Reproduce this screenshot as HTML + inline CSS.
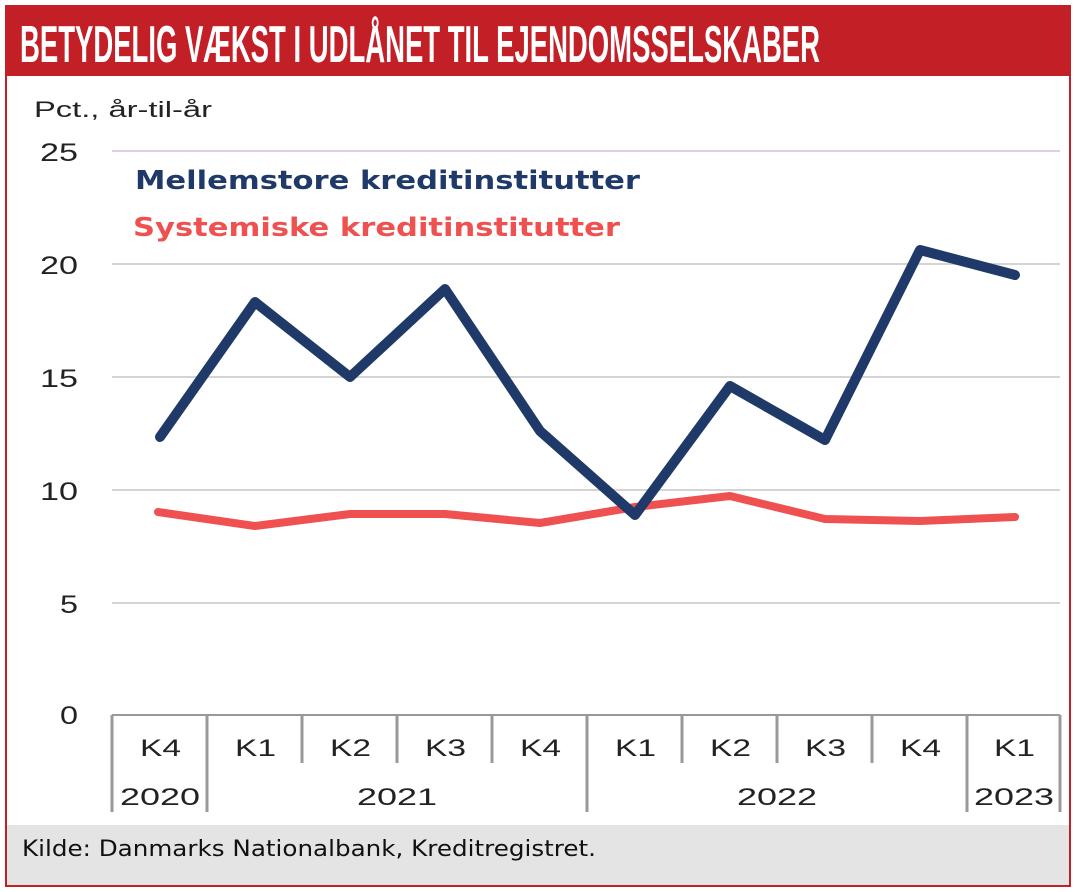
<!DOCTYPE html>
<html><head><meta charset="utf-8"><style>
html,body{margin:0;padding:0;background:#fff;width:1075px;height:892px;overflow:hidden}
</style></head><body>
<svg width="1075" height="892" xmlns="http://www.w3.org/2000/svg">
<rect x="0" y="0" width="1075" height="892" fill="#fff"/>
<rect x="6" y="6" width="1064" height="70" fill="#c21f26"/>
<text x="20" y="62" font-family="Liberation Sans Narrow, Liberation Sans, sans-serif" font-weight="bold" font-size="52" fill="#fff" textLength="800" lengthAdjust="spacingAndGlyphs">BETYDELIG VÆKST I UDLÅNET TIL EJENDOMSSELSKABER</text>
<rect x="7" y="825" width="1062" height="60" fill="#e4e4e4"/>
<rect x="6" y="6" width="1064" height="880" fill="none" stroke="#c21f26" stroke-width="2"/>
<text x="22" y="856" font-family="DejaVu Sans, sans-serif" font-size="22" fill="#111" textLength="574" lengthAdjust="spacingAndGlyphs">Kilde: Danmarks Nationalbank, Kreditregistret.</text>
<text x="34" y="117" font-family="Liberation Sans, sans-serif" font-size="22" fill="#222" textLength="178" lengthAdjust="spacingAndGlyphs">Pct., år-til-år</text>
<g stroke-width="2">
<line x1="112" y1="151" x2="1060" y2="151" stroke="#ddd0e2"/>
<line x1="112" y1="264" x2="1060" y2="264" stroke="#d4d4d4"/>
<line x1="112" y1="377" x2="1060" y2="377" stroke="#d4d4d4"/>
<line x1="112" y1="490" x2="1060" y2="490" stroke="#d4d4d4"/>
<line x1="112" y1="603" x2="1060" y2="603" stroke="#d4d4d4"/>
<line x1="112" y1="715" x2="1060" y2="715" stroke="#999"/>
</g>
<g font-family="Liberation Sans, sans-serif" font-size="25" fill="#222">
<text x="40" y="161" textLength="38" lengthAdjust="spacingAndGlyphs">25</text>
<text x="40" y="274" textLength="38" lengthAdjust="spacingAndGlyphs">20</text>
<text x="40" y="387" textLength="38" lengthAdjust="spacingAndGlyphs">15</text>
<text x="40" y="500" textLength="38" lengthAdjust="spacingAndGlyphs">10</text>
<text x="60" y="613" textLength="18" lengthAdjust="spacingAndGlyphs">5</text>
<text x="60" y="724" textLength="18" lengthAdjust="spacingAndGlyphs">0</text>
</g>
<g stroke="#999" stroke-width="3">
<line x1="112" y1="715" x2="112" y2="812"/><line x1="207" y1="715" x2="207" y2="812"/>
<line x1="302" y1="715" x2="302" y2="763"/><line x1="397" y1="715" x2="397" y2="763"/>
<line x1="492" y1="715" x2="492" y2="763"/><line x1="587" y1="715" x2="587" y2="812"/>
<line x1="682" y1="715" x2="682" y2="763"/><line x1="777" y1="715" x2="777" y2="763"/>
<line x1="872" y1="715" x2="872" y2="763"/><line x1="967" y1="715" x2="967" y2="812"/>
<line x1="1060" y1="715" x2="1060" y2="812"/>
</g>
<g font-family="Liberation Sans, sans-serif" font-size="24" fill="#222">
<text x="140" y="756" textLength="41" lengthAdjust="spacingAndGlyphs">K4</text>
<text x="235" y="756" textLength="41" lengthAdjust="spacingAndGlyphs">K1</text>
<text x="330" y="756" textLength="41" lengthAdjust="spacingAndGlyphs">K2</text>
<text x="425" y="756" textLength="41" lengthAdjust="spacingAndGlyphs">K3</text>
<text x="520" y="756" textLength="41" lengthAdjust="spacingAndGlyphs">K4</text>
<text x="615" y="756" textLength="41" lengthAdjust="spacingAndGlyphs">K1</text>
<text x="710" y="756" textLength="41" lengthAdjust="spacingAndGlyphs">K2</text>
<text x="805" y="756" textLength="41" lengthAdjust="spacingAndGlyphs">K3</text>
<text x="900" y="756" textLength="41" lengthAdjust="spacingAndGlyphs">K4</text>
<text x="994" y="756" textLength="41" lengthAdjust="spacingAndGlyphs">K1</text>
<text x="120" y="805" textLength="80" lengthAdjust="spacingAndGlyphs">2020</text>
<text x="357" y="805" textLength="80" lengthAdjust="spacingAndGlyphs">2021</text>
<text x="737" y="805" textLength="80" lengthAdjust="spacingAndGlyphs">2022</text>
<text x="974" y="805" textLength="80" lengthAdjust="spacingAndGlyphs">2023</text>
</g>
<text x="135" y="189" font-family="DejaVu Sans, sans-serif" font-weight="bold" font-size="26" fill="#1f3a68" textLength="505" lengthAdjust="spacingAndGlyphs">Mellemstore kreditinstitutter</text>
<text x="133" y="236" font-family="DejaVu Sans, sans-serif" font-weight="bold" font-size="26" fill="#ef5050" textLength="487" lengthAdjust="spacingAndGlyphs">Systemiske kreditinstitutter</text>
<polyline fill="none" stroke="#ef5050" stroke-width="8" stroke-linecap="round" stroke-linejoin="round" points="158,512 255,526 350,514 445,514 540,523 635,507 730,496 825,519 920,521 1015,517"/>
<polyline fill="none" stroke="#1f3a68" stroke-width="10" stroke-linecap="round" stroke-linejoin="round" points="160,437 255,302 350,377 445,289 540,431 635,515 730,386 825,440 920,250 1015,275"/>
</svg>
</body></html>
